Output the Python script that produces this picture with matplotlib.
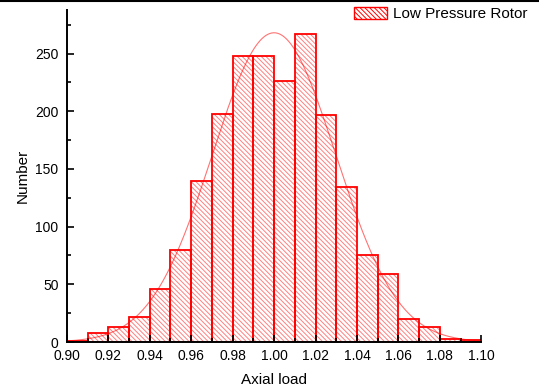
import numpy as np
import matplotlib.pyplot as plt
from matplotlib.patches import Patch
from matplotlib.lines import Line2D

plt.rcParams['font.family'] = ['Liberation Sans', 'DejaVu Sans']
plt.rcParams['hatch.linewidth'] = 0.7

# Histogram data (bin edges 0.90 .. 1.10, width 0.01)
counts = [1, 8, 13, 22, 46, 80, 140, 198, 248, 248,
          226, 267, 197, 134, 75, 59, 20, 13, 3, 2]
bin_width = 0.01
bin_left = np.round(0.90 + bin_width * np.arange(len(counts)), 2)
series_name = 'Low Pressure Rotor'

fig = plt.figure(figsize=(5.39, 3.9), dpi=100)
ax = fig.add_axes([0.124, 0.123, 0.769, 0.852])

# hatched fill (lighter red) then solid outline
ax.bar(bin_left, counts, width=bin_width, align='edge', facecolor='white',
       edgecolor=(1, 0, 0, 0.5), hatch='\\' * 7, linewidth=0)
ax.bar(bin_left, counts, width=bin_width, align='edge', facecolor='none',
       edgecolor='red', linewidth=1.3)

# normal fit from the binned data
mids = bin_left + bin_width / 2
w = np.array(counts, dtype=float)
mu = np.sum(mids * w) / w.sum()
sd = np.sqrt(np.sum(w * (mids - mu) ** 2) / w.sum())
xx = np.linspace(0.90, 1.10, 400)
yy = w.sum() * bin_width / (sd * np.sqrt(2 * np.pi)) * np.exp(-0.5 * ((xx - mu) / sd) ** 2)
ax.plot(xx, yy, color='red', alpha=0.55, linewidth=0.8)

major = np.round(0.90 + 0.02 * np.arange(11), 2)
ax.set_xlim(0.90, 1.10)
ax.set_ylim(0, 288)
ax.set_xticks(major)
ax.set_xticks(np.round(0.90 + 0.01 * np.arange(21), 2), minor=True)
ax.set_xticklabels([f'{v:.2f}' for v in major])
ax.set_yticks(np.arange(0, 251, 50))
ax.set_yticks(np.arange(0, 276, 25), minor=True)
ax.tick_params(which='both', direction='in', width=1.2, labelsize=10)
ax.tick_params(which='major', length=5)
ax.tick_params(which='minor', length=3)
ax.tick_params(axis='x', pad=5)
ax.tick_params(axis='y', pad=6)
ax.spines['top'].set_visible(False)
ax.spines['right'].set_visible(False)
ax.spines['left'].set_linewidth(1.4)
ax.spines['bottom'].set_linewidth(1.4)
ax.set_xlabel('Axial load', fontsize=11, labelpad=7)
ax.set_ylabel('Number', fontsize=11, labelpad=4)

handle = Patch(facecolor='white', edgecolor='red', hatch='\\' * 7, linewidth=1.0)
fig.legend([handle], [series_name], loc='upper right', bbox_to_anchor=(1.005, 1.018),
           frameon=False, fontsize=11, handlelength=2.2, handleheight=0.85,
           handletextpad=0.4)

# border line along the top edge
fig.add_artist(Line2D([0, 1], [0.998, 0.998], transform=fig.transFigure,
                      color='black', linewidth=1.5))

fig.savefig('out.png', dpi=100)
